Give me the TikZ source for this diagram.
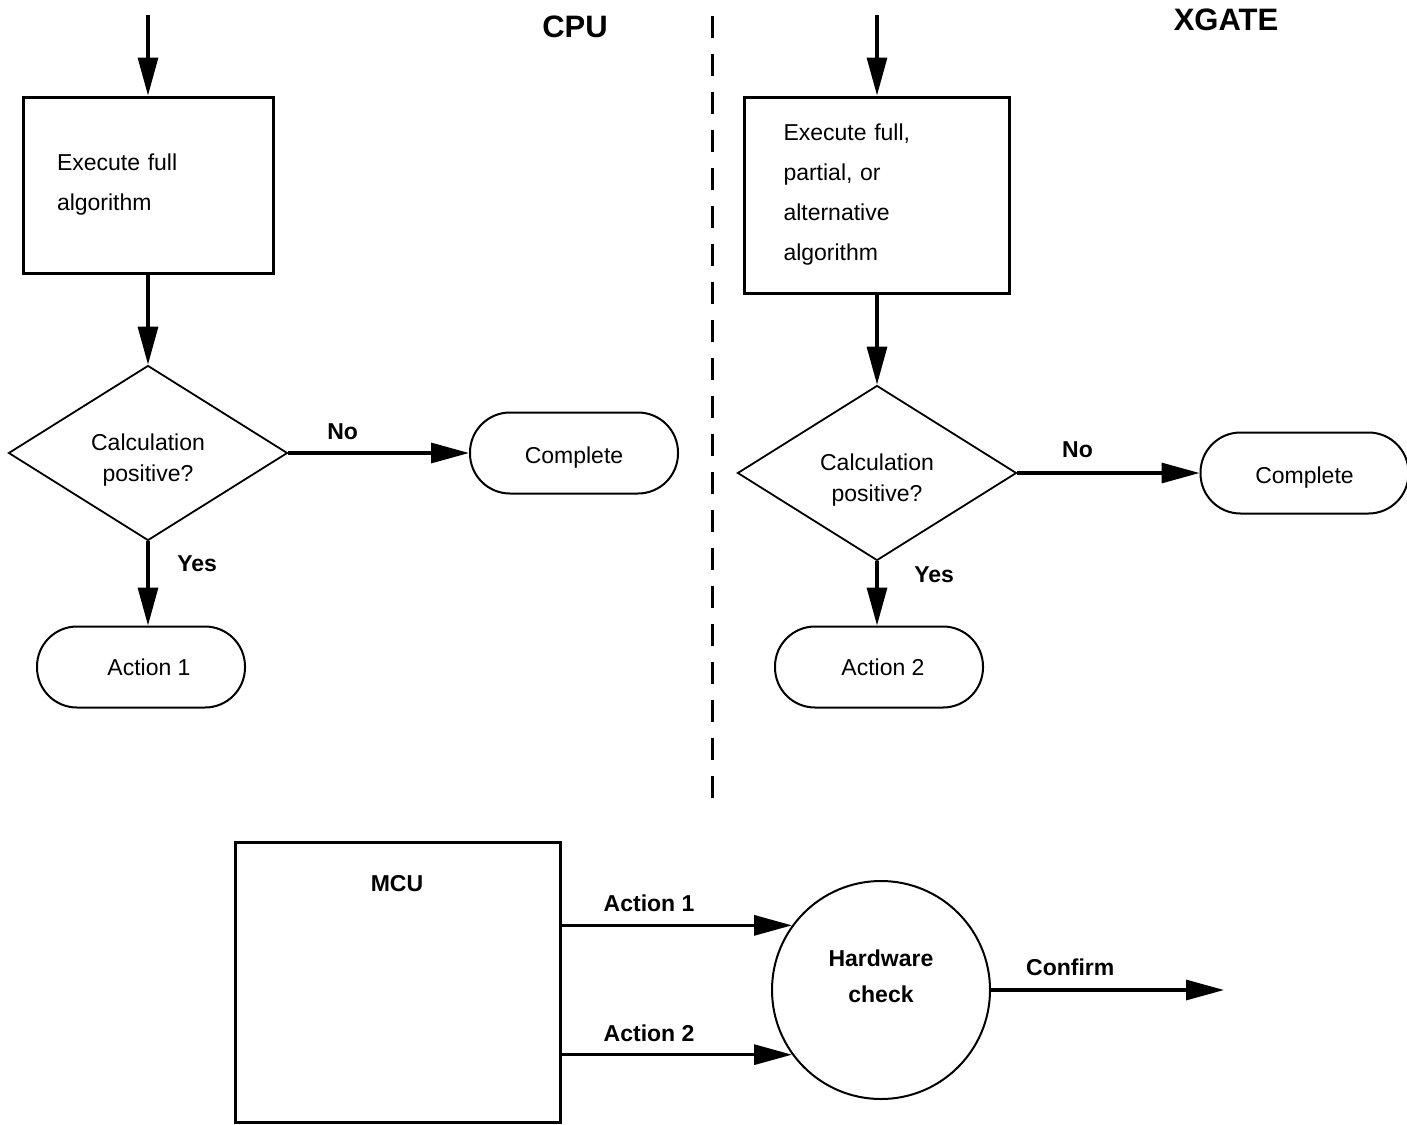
\documentclass[tikz,border=0pt]{standalone}
\usepackage{fontspec}
\setmainfont{Liberation Sans}
\usetikzlibrary{shapes.geometric,arrows.meta}

\begin{document}
\begin{tikzpicture}[x=0.5pt,y=-0.5pt,
	font=\fontsize{11.5}{14}\selectfont,
	flow/.style={-{Triangle[length=19pt,width=10pt]},line width=1.6pt},
	task/.style={draw,line width=1.5pt,align=left,inner ysep=0pt,font=\fontsize{11.5}{20}\selectfont},
	decision/.style={draw,diamond,aspect=1.6,line width=0.9pt,minimum width=139.5pt,minimum height=87.5pt,inner sep=0pt,align=center,text height=30.5pt,font=\fontsize{11.5}{15.5}\selectfont},
	terminal/.style={draw,rectangle,rounded corners=20pt,line width=1pt,minimum width=104pt,minimum height=40.5pt},
	tag/.style={font=\fontsize{11.5}{14}\selectfont\bfseries},
	heading/.style={font=\fontsize{15.5}{18}\selectfont\bfseries}]
	\useasboundingbox (0,0) rectangle (1407,1124);
					% CPU side
					\coordinate (c1) at (148,15);
					\node[task,text width=91pt,inner xsep=17pt,minimum height=88pt](v1) at (148,185){Execute full\\algorithm};
					\node[decision](v2) at (148,453){Calculation\\positive?};
					\node[terminal,text height=13pt](v3) at (574,453){Complete};
					\node[terminal](v4) at (141,667){\hspace{8pt}Action 1};
					\node[heading](h1) at (575,27){CPU};
					% XGATE side
					\coordinate (c2) at (877,15);
					\node[task,text width=93.5pt,inner xsep=19.5pt,minimum height=98pt](v5) at (877,195){Execute full,\\partial, or\\alternative\\algorithm};
					\node[decision](v6) at (877,473){Calculation\\positive?};
					\node[terminal,text height=13pt](v7) at (1304.5,473){Complete};
					\node[terminal](v8) at (879,667){\hspace{4pt}Action 2};
					\node[heading](h2) at (1226,20){XGATE};
					\draw[line width=1.5pt,dash pattern=on 11pt off 8pt] (712,16) -- (712,805);
					% MCU and check
					\node[draw,line width=1.5pt,minimum width=162.5pt,minimum height=140pt](v9) at (397.5,982){};
					\node[tag](v10) at (397,884){MCU};
					\node[draw,circle,line width=1pt,minimum size=109pt,inner sep=0pt,align=center,text depth=14pt,font=\fontsize{11.5}{18}\selectfont\bfseries](v11) at (881,990){Hardware\\check};
					\coordinate (c3) at (1224,990);
					\path[flow]
						(c1) edge (v1)
						(v1) edge (v2)
						(v2) edge node[tag,pos=0.3,above=2.5pt]{No}(v3)
						(v2.south) edge node[tag,pos=0.26,right=10.5pt]{Yes}(v2.south |- v4.north)
						(c2) edge (v5)
						(v5) edge (v6)
						(v6) edge node[tag,pos=0.33,above=3.5pt]{No}(v7)
						(v6.south) edge node[tag,pos=0.2,right=14.5pt]{Yes}(v6.south |- v8.north)
						(v11.144.7 -| v9.east) edge node[tag,pos=0.38,above=2.5pt]{Action 1}(v11.144.7)
						(v11.216.6 -| v9.east) edge node[tag,pos=0.38,above=2.5pt]{Action 2}(v11.216.6)
						(v11) edge node[tag,pos=0.34,above=3pt]{Confirm}(c3);
				\end{tikzpicture}
\end{document}
